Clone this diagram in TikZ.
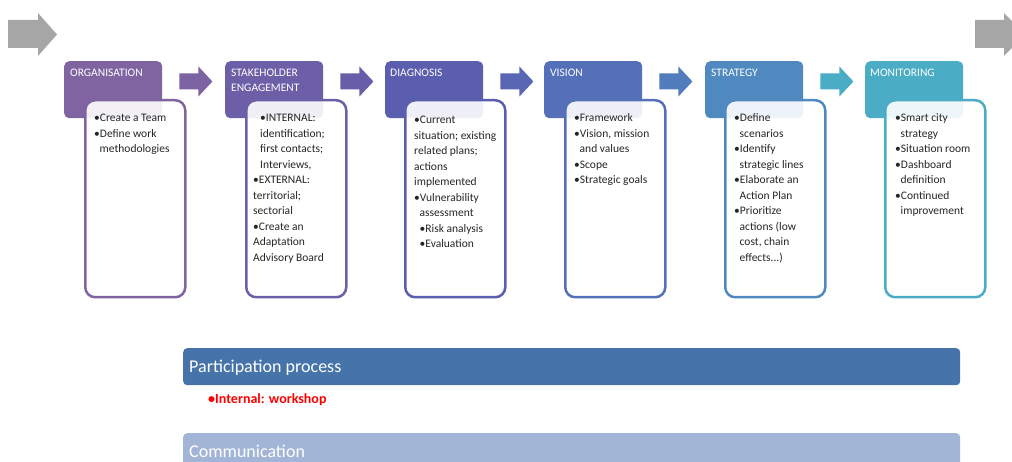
\documentclass[tikz,border=0pt]{standalone}
\usepackage{fontspec}
\setmainfont{Carlito}
\usetikzlibrary{calc}
\definecolor{c1}{HTML}{8064A2}
\definecolor{c2}{HTML}{6C5FA7}
\definecolor{c3}{HTML}{5B5DAE}
\definecolor{c4}{HTML}{5470B8}
\definecolor{c5}{HTML}{4F89C0}
\definecolor{c6}{HTML}{4BACC6}
\definecolor{a1c}{HTML}{7B63A4}
\definecolor{a2c}{HTML}{675EA9}
\definecolor{a3c}{HTML}{5866B3}
\definecolor{a4c}{HTML}{527DBC}
\definecolor{a5c}{HTML}{4BACC6}
\definecolor{gry}{HTML}{A6A6A6}
\definecolor{partc}{HTML}{4674AA}
\definecolor{commc}{HTML}{A3B5D6}
\definecolor{redt}{HTML}{FF0000}
\tikzset{
  hdr/.style={anchor=north west, minimum width=98pt, minimum height=57pt, rounded corners=5pt, inner sep=0pt, draw=none},
  htxt/.style={anchor=north west, inner sep=0pt, align=left, text=white, font=\fontsize{11.5}{15}\selectfont},
  tbox/.style={anchor=north west, minimum width=100pt, minimum height=197pt, rounded corners=10pt, line width=2.5pt, fill=white, fill opacity=0.9, draw opacity=1, inner sep=0pt},
  btxt/.style={anchor=north west, inner sep=0pt, align=left, text=black!85, font=\fontsize{11.5}{15.5}\selectfont},
  bar/.style={anchor=north west, minimum width=777pt, minimum height=37pt, rounded corners=4pt, inner sep=0pt, draw=none},
  bartxt/.style={anchor=base west, inner sep=0pt, text=white, font=\fontsize{18}{20}\selectfont},
}
\newcommand\blockarrow[2]{\fill[#2] ([shift={(17,12.5)}]#1.north east) -- ++(19,0) -- ++(0,-7) -- ++(14,15) -- ++(-14,15) -- ++(0,-7) -- ++(-19,0) -- cycle;}
\newcommand\myind{\hspace*{5.5pt}}
\newcommand\myindb{\hspace*{7pt}}
\newcommand\fst{\rule{0pt}{8pt}}
\begin{document}
\begin{tikzpicture}[x=1pt,y=-1pt]
\useasboundingbox (0,0) rectangle (1012,462);
\clip (0,0) rectangle (1012,462);
% grey arrows
\fill[gry] (8,20) -- (38,20) -- (38,13) -- (57,34.5) -- (38,56) -- (38,48) -- (8,48) -- cycle;
\fill[gry] (975,20) -- (1004,20) -- (1004,13) -- (1025,34.5) -- (1004,56) -- (1004,48) -- (975,48) -- cycle;
% headers
\node[hdr, fill=c1] (h1) at (64,61) {};
\node[hdr, fill=c2] (h2) at (225,61) {};
\node[hdr, fill=c3] (h3) at (385,61) {};
\node[hdr, fill=c4] (h4) at (544,61) {};
\node[hdr, fill=c5] (h5) at (705,61) {};
\node[hdr, fill=c6] (h6) at (865,61) {};
% header texts
\node[htxt] (h1t) at (70,69) {ORGANISATION};
\node[htxt] (h2t) at (231,69) {STAKEHOLDER\\ENGAGEMENT};
\node[htxt] (h3t) at (390,69) {DIAGNOSIS};
\node[htxt] (h4t) at (550,69) {VISION};
\node[htxt] (h5t) at (711,69) {STRATEGY};
\node[htxt] (h6t) at (870,69) {MONITORING};
% block arrows
\blockarrow{h1}{a1c}
\blockarrow{h2}{a2c}
\blockarrow{h3}{a3c}
\blockarrow{h4}{a4c}
\blockarrow{h5}{a5c}
% text boxes
\node[tbox, draw=c1] (t1) at (84,99) {};
\node[tbox, draw=c2] (t2) at (245,99) {};
\node[tbox, draw=c3] (t3) at (404,99) {};
\node[tbox, draw=c4] (t4) at (564,99) {};
\node[tbox, draw=c5] (t5) at (724,99) {};
\node[tbox, draw=c6] (t6) at (884,99) {};
% body texts
\node[btxt] (b1) at (94,113.5) {\fst\textbullet Create a Team\\ \textbullet Define work\\ \myind methodologies};
\node[btxt] (b2) at (253,113.5) {\fst\myindb\textbullet INTERNAL:\\ \myindb identification;\\ \myindb first contacts;\\ \myindb Interviews,\\ \textbullet EXTERNAL:\\ territorial;\\ sectorial\\ \textbullet Create an\\ Adaptation\\ Advisory Board};
\node[btxt] (b3) at (414,115.5) {\fst\textbullet Current\\ situation; existing\\ related plans;\\ actions\\ implemented\\ \textbullet Vulnerability\\ \myind assessment\\ \myind\textbullet Risk analysis\\ \myind\textbullet Evaluation};
\node[btxt] (b4) at (574,113.5) {\fst\textbullet Framework\\ \textbullet Vision, mission\\ \myind and values\\ \textbullet Scope\\ \textbullet Strategic goals};
\node[btxt] (b5) at (734,113.5) {\fst\textbullet Define\\ \myind scenarios\\ \textbullet Identify\\ \myind strategic lines\\ \textbullet Elaborate an\\ \myind Action Plan\\ \textbullet Prioritize\\ \myind actions (low\\ \myind cost, chain\\ \myind effects...)};
\node[btxt] (b6) at (895,113.5) {\fst\textbullet Smart city\\ \myind strategy\\ \textbullet Situation room\\ \textbullet Dashboard\\ \myind definition\\ \textbullet Continued\\ \myind improvement};
% bottom bars
\node[bar, fill=partc] (pbar) at (183,348) {};
\node[bartxt] (ptxt) at (189,372) {Participation process};
\node[anchor=base west, inner sep=0pt, text=redt, font=\bfseries\fontsize{14}{16}\selectfont] (rtxt) at (208,403) {\textbullet Internal: workshop};
\node[bar, fill=commc, minimum height=45pt] (cbar) at (183,433) {};
\node[bartxt] (ctxt) at (189,457) {Communication};
\end{tikzpicture}
\end{document}
